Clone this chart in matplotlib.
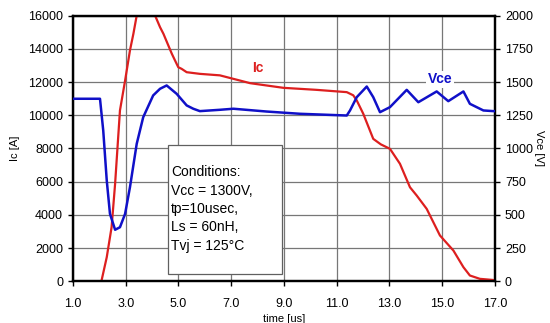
import matplotlib
matplotlib.use("Agg")
import matplotlib.pyplot as plt
from matplotlib.patches import Rectangle

plt.rcParams['font.family'] = ['Liberation Sans', 'DejaVu Sans']

# Collector current (left axis)
t_ic = [1.0, 2.075, 2.28, 2.464, 2.597, 2.781, 2.976, 3.16, 3.29, 3.416, 3.764,
        4.112, 4.30, 4.429, 4.747, 4.87, 4.992, 5.12, 5.31, 5.811, 6.569, 7.081,
        7.715, 8.975, 10.213, 11.38, 11.626, 11.759, 12.005, 12.384, 12.67,
        13.018, 13.397, 13.776, 14.032, 14.41, 14.912, 15.424, 15.803, 16.048,
        16.427, 16.939, 17.0]
ic = [0, 0, 1460, 3270, 5880, 10290, 12090, 13900, 14900, 16000, 16900,
      16000, 15300, 14900, 13700, 13290, 12890, 12790, 12590, 12490, 12400, 12190,
      11930, 11650, 11530, 11390, 11200, 10890, 10090, 8580, 8250,
      7980, 7080, 5670, 5170, 4370, 2770, 1860, 860, 360,
      160, 90, 60]

# Collector-emitter voltage (right axis)
t_vce = [1.0, 2.024, 2.147, 2.28, 2.402, 2.597, 2.781, 2.976, 3.16, 3.416,
         3.662, 4.04, 4.30, 4.552, 4.931, 5.31, 5.56, 5.811, 6.569, 7.081, 8.34,
         9.609, 11.38, 11.503, 11.759, 12.138, 12.384, 12.64, 13.018, 13.653,
         14.093, 14.789, 15.229, 15.803, 16.048, 16.56, 16.939, 17.0]
vce = [1374, 1374, 1135, 760, 509, 389, 408, 509, 709, 1035,
       1235, 1399, 1449, 1474, 1411, 1324, 1299, 1281, 1291, 1299, 1278,
       1261, 1248, 1286, 1386, 1466, 1386, 1273, 1311, 1441,
       1348, 1429, 1356, 1429, 1336, 1286, 1281, 1281]

x_ticks = [1, 3, 5, 7, 9, 11, 13, 15, 17]
ic_ticks = list(range(0, 16001, 2000))
vce_ticks = list(range(0, 2001, 250))

conditions = "Conditions:\nVcc = 1300V,\ntp=10usec,\nLs = 60nH,\nTvj = 125°C"

fig = plt.figure(figsize=(5.5, 3.23), dpi=100)
ax = fig.add_axes([0.1327, 0.1285, 0.7673, 0.8235])
ax2 = ax.twinx()

ax.plot(t_ic, ic, color='#dd1f1f', lw=1.6, zorder=3)
ax2.plot(t_vce, vce, color='#1010c8', lw=1.8, zorder=3)

ax.set_xlim(1, 17)
ax.set_ylim(0, 16000)
ax2.set_ylim(0, 2000)
ax.set_xticks(x_ticks)
ax.set_xticklabels([f"{v:.1f}" for v in x_ticks])
ax.set_yticks(ic_ticks)
ax2.set_yticks(vce_ticks)

ax.grid(True, color='#777777', lw=0.9)
ax.set_axisbelow(True)

for a in (ax, ax2):
    for s in a.spines.values():
        s.set_linewidth(1.6)
    a.tick_params(labelsize=9, direction='out', length=3.6, width=1)
ax.tick_params(axis='x', pad=8)

ax.set_xlabel('time [us]', fontsize=8, labelpad=3)
ax.set_ylabel('Ic [A]', fontsize=8, labelpad=6)
ax2.set_ylabel('Vce [V]', fontsize=8, rotation=-90, labelpad=8)

ax.text(8.01, 12870, 'Ic', color='#dd1f1f', fontsize=10, fontweight='bold',
        ha='center', va='center')
ax2.text(14.91, 1519, 'Vce', color='#1010c8', fontsize=10, fontweight='bold',
         ha='center', va='center',
         bbox=dict(facecolor='white', edgecolor='none', pad=1))

# conditions box
ax2.add_patch(Rectangle((4.61, 60), 8.91 - 4.61, 1030 - 60, facecolor='white',
                        edgecolor='#606060', lw=0.9, zorder=4))
ax2.text(4.72, 875, conditions, fontsize=10, ha='left', va='top',
         linespacing=1.40, zorder=5)

fig.savefig('out.png', dpi=100)
